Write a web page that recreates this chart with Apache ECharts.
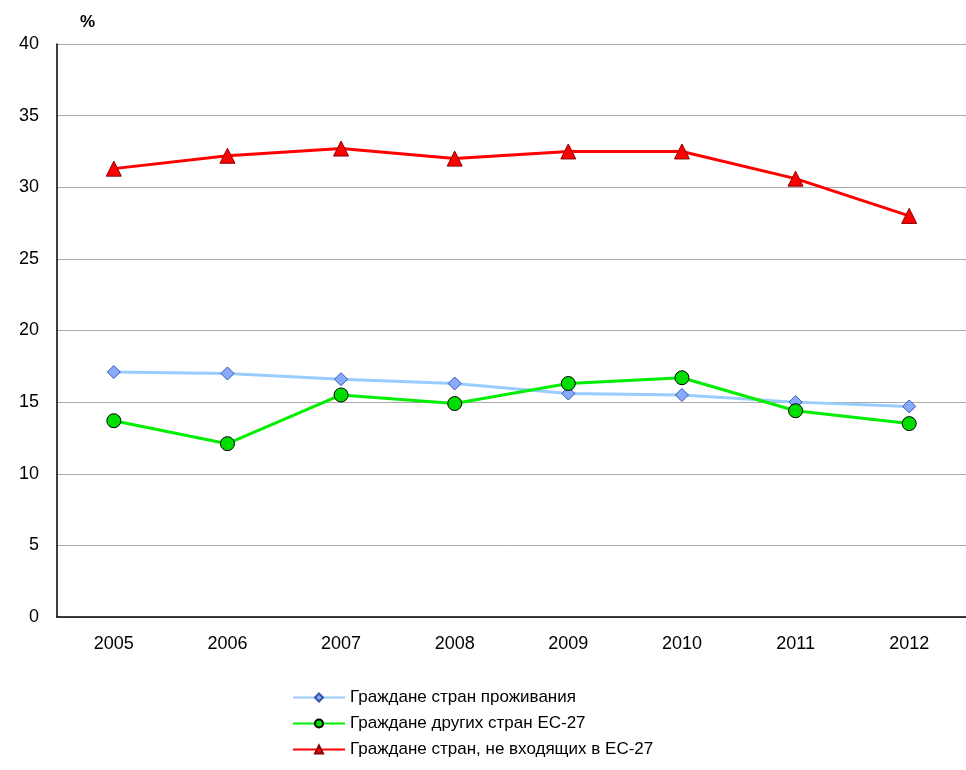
<!DOCTYPE html>
<html><head><meta charset="utf-8">
<script src="https://cdn.jsdelivr.net/npm/echarts@6/dist/echarts.min.js"></script>
<style>html,body{margin:0;padding:0;background:#fff;overflow:hidden}#c{width:966px;height:770px}</style>
</head><body><div id="c"></div>
<script>
const years = ['2005','2006','2007','2008','2009','2010','2011','2012'];
const citizens = [17.1,17.0,16.6,16.3,15.6,15.5,15.0,14.7];
const otherEU = [13.7,12.1,15.5,14.9,16.3,16.7,14.4,13.5];
const nonEU = [31.3,32.2,32.7,32.0,32.5,32.5,30.6,28.0];
const names = ['Граждане стран проживания','Граждане других стран ЕС-27','Граждане стран, не входящих в ЕС-27'];
const chart = echarts.init(document.getElementById('c'));
chart.setOption({
  animation:false,
  textStyle:{fontFamily:'Liberation Sans, Arial'},
  graphic:[{type:'text',left:80,top:14,style:{text:'%',font:'bold 17px Liberation Sans',fill:'#000'}}],
  grid:{left:57,right:-12,top:44,bottom:153},
  legend:{orient:'vertical',left:287,top:684,itemGap:9,itemWidth:52,itemHeight:10,
    textStyle:{fontSize:17,color:'#000'},data:names},
  xAxis:{type:'category',data:years,boundaryGap:true,
    axisLine:{lineStyle:{color:'#000',width:1.5}},axisTick:{show:false},
    axisLabel:{fontSize:18,color:'#000',margin:18}},
  yAxis:{type:'value',min:0,max:40,interval:5,
    axisLine:{show:true,lineStyle:{color:'#000',width:1.5}},axisTick:{show:false},
    splitLine:{lineStyle:{color:'#aaa'}},
    axisLabel:{fontSize:18,color:'#000',margin:18}},
  series:[
    {name:names[0],type:'line',data:citizens,symbol:'diamond',symbolSize:13,
      lineStyle:{color:'#99ccff',width:3},itemStyle:{color:'#88aaff',borderColor:'#3355aa',borderWidth:1}},
    {name:names[1],type:'line',data:otherEU,symbol:'circle',symbolSize:14,
      lineStyle:{color:'#00ee00',width:3},itemStyle:{color:'#00dd00',borderColor:'#000',borderWidth:1}},
    {name:names[2],type:'line',data:nonEU,symbol:'triangle',symbolSize:15,
      lineStyle:{color:'#ff0000',width:3},itemStyle:{color:'#ff0000',borderColor:'#880000',borderWidth:1}}
  ]
});
</script></body></html>
